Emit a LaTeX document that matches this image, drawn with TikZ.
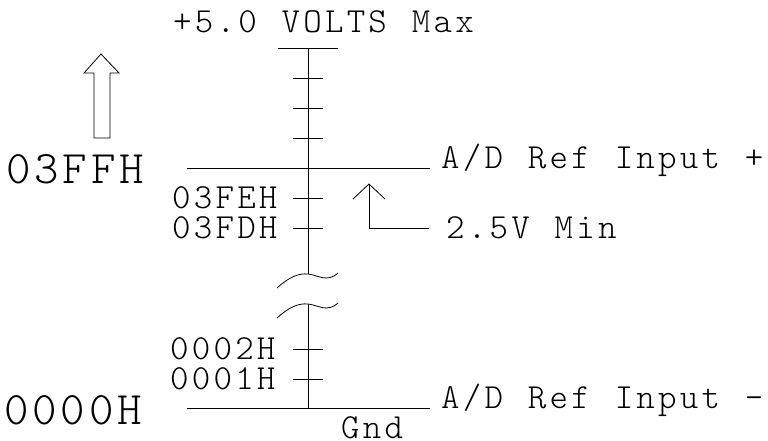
\documentclass[tikz,border=0pt]{standalone}
\usepackage{fontspec}
\newfontfamily\cadfont{Latin Modern Mono Light}
\ExplSyntaxOn
\NewDocumentCommand\cadtext{m m}{ \str_map_inline:nn {#2} { \makebox[#1][l]{##1} } }
\ExplSyntaxOff
\tikzset{
  lbl/.style={inner sep=0pt, text height=22pt, text depth=0pt, font=\fontsize{35.2}{36}\cadfont},
  biglbl/.style={inner sep=0pt, text height=29pt, text depth=0pt, font=\fontsize{46.6}{48}\cadfont},
  ln/.style={line width=0.8pt, line cap=butt},
}
\newcommand\sm[1]{\cadtext{21.7pt}{#1}}
\newcommand\bg[1]{\cadtext{28.3pt}{#1}}
\begin{document}
\begin{tikzpicture}[x=1pt,y=-1pt]
\useasboundingbox (0,0) rectangle (768,441);
% axis coordinates
\coordinate (atop) at (308,48);
\coordinate (abrk1) at (308,274);
\coordinate (abrk2) at (308,304);
\coordinate (agnd) at (308,408);
% axis
\draw[ln] (atop) -- (abrk1);
\draw[ln] (abrk2) -- (agnd);
% top bar
\draw[ln] (278,48) -- (338,48);
% ticks
\foreach \yy in {78,108,138,198,228,349,379}
  \draw[ln] (293,\yy) -- (323,\yy);
% reference lines
\coordinate (refpL) at (187,168);
\coordinate (refpR) at (430,168);
\coordinate (refmL) at (187,408);
\coordinate (refmR) at (430,408);
\draw[ln] (refpL) -- (refpR);
\draw[ln] (refmL) -- (refmR);
% breaks
\draw[ln] (277,288) .. controls (289,277) and (299,273) .. (abrk1) .. controls (318,275) and (327,283) .. (338,273);
\draw[ln] (277,318) .. controls (289,307) and (299,303) .. (abrk2) .. controls (318,305) and (327,313) .. (338,303);
% hollow arrow
\draw[ln, line join=miter] (101,54) -- (119,73) -- (110,73) -- (110,138) -- (94,138) -- (94,73) -- (84,73) -- cycle;
% corner arrow
\coordinate (ctip) at (369,184);
\coordinate (ccorner) at (369,228);
\coordinate (cend) at (429,228);
\draw[ln] (cend) -- (ccorner) -- (ctip);
\draw[ln] (353,199) -- (ctip) -- (385,199);
% labels
\node[lbl, anchor=base west] (vmax) at (173,33) {\sm{+5.0 VOLTS Max}};
\node[biglbl, anchor=base west] (hff) at (6,183) {\bg{03FFH}};
\node[biglbl, anchor=base west] (h00) at (4,424) {\bg{0000H}};
\node[lbl, anchor=base west] (hfe) at (172,208) {\sm{03FEH}};
\node[lbl, anchor=base west] (hfd) at (172,238) {\sm{03FDH}};
\node[lbl, anchor=base west] (h02) at (170,359) {\sm{0002H}};
\node[lbl, anchor=base west] (h01) at (170,389) {\sm{0001H}};
\node[lbl, anchor=base west] (refp) at (441,168) {\sm{A/D Ref Input +}};
\node[lbl, anchor=base west] (refm) at (441,408) {\sm{A/D Ref Input -}};
\node[lbl, anchor=base west] (vmin) at (446,238) {\sm{2.5V Min}};
\node[lbl, anchor=base west] (gnd) at (341,438) {\sm{Gnd}};
\end{tikzpicture}
\end{document}
